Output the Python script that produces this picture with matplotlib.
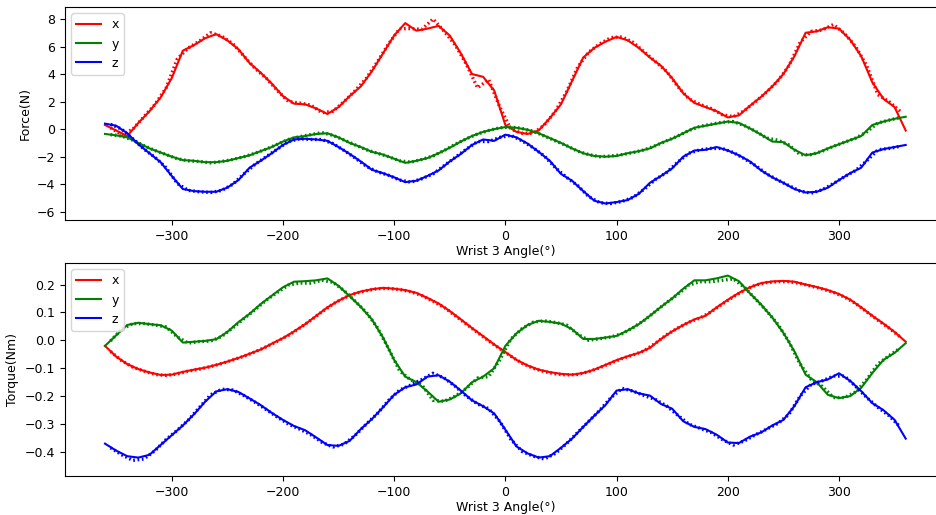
import numpy as np
import matplotlib
matplotlib.use('Agg')
import matplotlib.pyplot as plt

plt.rcParams['font.size'] = 9

# joint angle grid (deg); fitted curves on the 10 deg grid, measurements in between
angle = np.arange(-360, 361, 10)
angle_meas = np.arange(-355, 356, 10)

# fitted force (N)
fx = [0.3, -0.1, -0.5, 0.45, 1.3, 2.3, 3.7, 5.7, 6.1, 6.6, 6.9, 6.45, 5.8, 4.8, 4.1,
      3.3, 2.4, 1.85, 1.8, 1.5, 1.1, 1.6, 2.4, 3.1, 4.2, 5.5, 6.8, 7.7, 7.15, 7.3,
      7.5, 6.8, 5.5, 4.0, 3.8, 2.8, 0.3, -0.2, -0.35, -0.1, 0.8, 1.8, 3.5, 5.2, 5.9,
      6.35, 6.7, 6.45, 5.9, 5.2, 4.6, 3.7, 2.6, 1.9, 1.6, 1.3, 0.85, 1.0, 1.7, 2.35,
      3.1, 4.0, 5.3, 7.0, 7.1, 7.4, 7.3, 6.5, 5.3, 3.4, 2.2, 1.6, -0.1]
fy = [-0.35, -0.45, -0.6, -1.0, -1.4, -1.7, -2.0, -2.25, -2.3, -2.4, -2.4, -2.3, -2.1,
      -1.9, -1.6, -1.3, -0.9, -0.6, -0.5, -0.35, -0.3, -0.6, -1.0, -1.3, -1.65, -1.85,
      -2.15, -2.45, -2.3, -2.1, -1.75, -1.35, -0.9, -0.5, -0.2, 0.0, 0.15, 0.1, -0.05,
      -0.3, -0.65, -1.0, -1.4, -1.75, -1.95, -2.0, -1.95, -1.75, -1.6, -1.4, -1.0, -0.7,
      -0.3, 0.1, 0.25, 0.4, 0.55, 0.45, 0.05, -0.4, -0.9, -0.95, -1.5, -1.9, -1.75,
      -1.4, -1.1, -0.8, -0.5, 0.3, 0.55, 0.75, 0.9]
fz = [0.4, 0.25, -0.3, -1.1, -1.75, -2.4, -3.4, -4.35, -4.5, -4.55, -4.55, -4.25, -3.7,
      -2.8, -2.3, -1.75, -1.15, -0.75, -0.7, -0.75, -0.85, -1.3, -1.8, -2.35, -2.95,
      -3.2, -3.5, -3.85, -3.75, -3.4, -3.0, -2.35, -1.8, -1.15, -0.75, -0.85, -0.4,
      -0.6, -1.05, -1.65, -2.3, -3.25, -3.75, -4.5, -5.2, -5.4, -5.3, -5.15, -4.7, -3.9,
      -3.4, -2.85, -2.0, -1.55, -1.5, -1.3, -1.55, -1.9, -2.35, -3.0, -3.5, -3.9, -4.35,
      -4.6, -4.55, -4.25, -3.7, -3.2, -2.8, -1.7, -1.45, -1.3, -1.15]

# measured force (N)
fx_meas = [0.1, -0.4, 0.0, 0.9, 1.8, 3.0, 5.1, 5.9, 6.4, 7.0, 6.75, 6.2, 5.3, 4.4, 3.7,
           2.8, 2.0, 1.9, 1.75, 1.2, 1.3, 2.0, 2.8, 3.7, 4.9, 6.2, 7.3, 7.3, 7.25, 8.0,
           7.1, 6.1, 4.7, 3.0, 3.6, 1.6, 0.0, -0.3, -0.3, 0.3, 1.3, 2.7, 4.5, 5.6, 6.2,
           6.65, 6.7, 6.3, 5.6, 4.9, 4.2, 3.1, 2.2, 1.8, 1.5, 1.05, 0.9, 1.35, 2.0, 2.7,
           3.5, 4.6, 6.3, 7.1, 7.2, 7.6, 6.95, 6.0, 4.6, 2.5, 2.0, 1.3]
fy_meas = [-0.4, -0.5, -0.8, -1.2, -1.55, -1.85, -2.15, -2.3, -2.35, -2.45, -2.35, -2.2,
           -2.0, -1.75, -1.45, -1.1, -0.75, -0.55, -0.4, -0.25, -0.45, -0.8, -1.15, -1.5,
           -1.75, -2.0, -2.3, -2.4, -2.2, -1.95, -1.55, -1.1, -0.7, -0.35, -0.1, 0.1, 0.15,
           0.05, -0.15, -0.5, -0.85, -1.2, -1.6, -1.85, -2.0, -1.95, -1.85, -1.7, -1.5,
           -1.2, -0.85, -0.5, -0.1, 0.2, 0.35, 0.5, 0.55, 0.25, -0.15, -0.65, -0.8, -1.15,
           -1.85, -1.85, -1.6, -1.25, -0.95, -0.65, -0.2, 0.45, 0.65, 0.85]
fz_meas = [0.35, 0.0, -0.7, -1.45, -2.05, -2.8, -3.95, -4.45, -4.55, -4.6, -4.45, -4.0,
           -3.25, -2.55, -2.0, -1.45, -0.9, -0.7, -0.75, -0.75, -1.05, -1.55, -2.1, -2.7,
           -3.1, -3.35, -3.7, -3.85, -3.6, -3.25, -2.65, -2.05, -1.45, -0.9, -0.9, -0.6,
           -0.45, -0.85, -1.35, -1.95, -2.8, -3.5, -4.1, -4.9, -5.35, -5.4, -5.25, -4.95,
           -4.35, -3.65, -3.15, -2.4, -1.75, -1.5, -1.4, -1.4, -1.7, -2.15, -2.65, -3.25,
           -3.7, -4.1, -4.5, -4.65, -4.4, -3.95, -3.45, -3.0, -2.3, -1.5, -1.4, -1.25]

# fitted torque (Nm)
tx = [-0.02, -0.058, -0.085, -0.103, -0.115, -0.124, -0.123, -0.113, -0.105, -0.098,
      -0.088, -0.076, -0.063, -0.048, -0.033, -0.012, 0.008, 0.032, 0.058, 0.088, 0.118,
      0.142, 0.162, 0.175, 0.183, 0.188, 0.185, 0.18, 0.17, 0.152, 0.132, 0.105, 0.075,
      0.044, 0.015, -0.015, -0.042, -0.07, -0.09, -0.105, -0.114, -0.12, -0.123, -0.117,
      -0.105, -0.088, -0.071, -0.057, -0.045, -0.027, 0.005, 0.032, 0.055, 0.075, 0.088,
      0.118, 0.145, 0.17, 0.19, 0.205, 0.211, 0.213, 0.21, 0.2, 0.191, 0.18, 0.166,
      0.146, 0.118, 0.088, 0.06, 0.03, -0.005]
ty = [-0.02, 0.018, 0.055, 0.063, 0.058, 0.054, 0.035, -0.008, -0.005, -0.002, 0.004,
      0.03, 0.065, 0.095, 0.13, 0.16, 0.19, 0.21, 0.212, 0.215, 0.222, 0.195, 0.158,
      0.12, 0.075, 0.01, -0.07, -0.13, -0.15, -0.183, -0.22, -0.212, -0.19, -0.15, -0.13,
      -0.1, -0.02, 0.025, 0.055, 0.07, 0.066, 0.06, 0.04, 0.005, 0.005, 0.01, 0.016,
      0.035, 0.058, 0.088, 0.12, 0.15, 0.185, 0.215, 0.215, 0.222, 0.232, 0.212, 0.168,
      0.128, 0.082, 0.027, -0.04, -0.123, -0.15, -0.195, -0.207, -0.2, -0.17, -0.117,
      -0.07, -0.045, -0.01]
tz = [-0.37, -0.395, -0.415, -0.42, -0.41, -0.375, -0.34, -0.305, -0.265, -0.22, -0.183,
      -0.175, -0.185, -0.208, -0.232, -0.26, -0.285, -0.307, -0.322, -0.348, -0.375,
      -0.378, -0.36, -0.318, -0.282, -0.24, -0.195, -0.168, -0.158, -0.13, -0.125,
      -0.148, -0.18, -0.215, -0.236, -0.262, -0.32, -0.38, -0.405, -0.42, -0.415, -0.385,
      -0.352, -0.31, -0.27, -0.232, -0.18, -0.175, -0.19, -0.198, -0.228, -0.245, -0.29,
      -0.31, -0.318, -0.338, -0.366, -0.368, -0.345, -0.33, -0.305, -0.285, -0.235,
      -0.168, -0.15, -0.14, -0.118, -0.145, -0.182, -0.225, -0.25, -0.285, -0.352]

# measured torque (Nm)
tx_meas = [-0.04, -0.073, -0.096, -0.11, -0.122, -0.126, -0.12, -0.11, -0.103, -0.094,
           -0.083, -0.07, -0.057, -0.041, -0.023, -0.003, 0.018, 0.044, 0.072, 0.102,
           0.13, 0.152, 0.168, 0.178, 0.185, 0.186, 0.182, 0.174, 0.16, 0.14, 0.118,
           0.088, 0.058, 0.028, -0.002, -0.03, -0.057, -0.082, -0.1, -0.112, -0.12,
           -0.124, -0.122, -0.112, -0.098, -0.081, -0.065, -0.052, -0.037, -0.01, 0.02,
           0.044, 0.065, 0.08, 0.102, 0.13, 0.156, 0.18, 0.198, 0.207, 0.21, 0.21, 0.204,
           0.194, 0.184, 0.172, 0.155, 0.132, 0.102, 0.072, 0.044, 0.012]
ty_meas = [-0.002, 0.04, 0.06, 0.06, 0.055, 0.048, 0.012, -0.01, -0.004, -0.003, 0.014,
           0.045, 0.078, 0.11, 0.144, 0.172, 0.198, 0.205, 0.205, 0.215, 0.208, 0.178,
           0.14, 0.1, 0.045, -0.03, -0.11, -0.142, -0.16, -0.215, -0.218, -0.2, -0.172,
           -0.135, -0.13, -0.07, 0.005, 0.042, 0.065, 0.07, 0.064, 0.055, 0.022, 0.0,
           0.006, 0.012, 0.024, 0.046, 0.072, 0.104, 0.135, 0.165, 0.198, 0.21, 0.21,
           0.215, 0.22, 0.19, 0.148, 0.105, 0.058, -0.005, -0.085, -0.14, -0.165, -0.205,
           -0.205, -0.185, -0.14, -0.085, -0.055, -0.028]
tz_meas = [-0.385, -0.41, -0.43, -0.425, -0.395, -0.355, -0.322, -0.285, -0.24, -0.195,
           -0.175, -0.178, -0.198, -0.222, -0.248, -0.275, -0.3, -0.318, -0.338, -0.365,
           -0.382, -0.372, -0.34, -0.3, -0.262, -0.215, -0.178, -0.16, -0.14, -0.118,
           -0.135, -0.165, -0.2, -0.228, -0.245, -0.29, -0.355, -0.398, -0.415, -0.425,
           -0.405, -0.37, -0.33, -0.29, -0.25, -0.205, -0.172, -0.182, -0.198, -0.212,
           -0.235, -0.268, -0.3, -0.315, -0.33, -0.355, -0.375, -0.36, -0.338, -0.318,
           -0.298, -0.265, -0.2, -0.158, -0.145, -0.128, -0.128, -0.165, -0.205, -0.24,
           -0.27, -0.31]

labels = ['x', 'y', 'z']
colors = ['r', 'g', 'b']

fig = plt.figure(figsize=(9.36, 5.15), dpi=100)
ax1 = fig.add_axes([0.0694, 0.5728, 0.941, 0.4136])
ax2 = fig.add_axes([0.0694, 0.0757, 0.941, 0.4136])

for ax, fit, meas in [(ax1, [fx, fy, fz], [fx_meas, fy_meas, fz_meas]),
                      (ax2, [tx, ty, tz], [tx_meas, ty_meas, tz_meas])]:
    for f, m, c, lab in zip(fit, meas, colors, labels):
        ax.plot(angle_meas, m, color=c, lw=2.4, ls=(0, (0.5, 0.8)))
        ax.plot(angle, f, color=c, lw=1.5, label=lab)
    ax.set_xlim(-396, 396)
    ax.set_xlabel('Wrist 3 Angle(°)', labelpad=1)
    ax.tick_params(axis='x', pad=4)
    ax.legend(loc='upper left')

ax1.set_ylabel('Force(N)')
ax1.set_ylim(-6.6, 8.87)
ax1.set_yticks([-6, -4, -2, 0, 2, 4, 6, 8])
ax2.set_ylabel('Torque(Nm)')
ax2.set_ylim(-0.486, 0.277)
ax2.set_yticks([-0.4, -0.3, -0.2, -0.1, 0.0, 0.1, 0.2])

fig.savefig('out.png', dpi=100)
